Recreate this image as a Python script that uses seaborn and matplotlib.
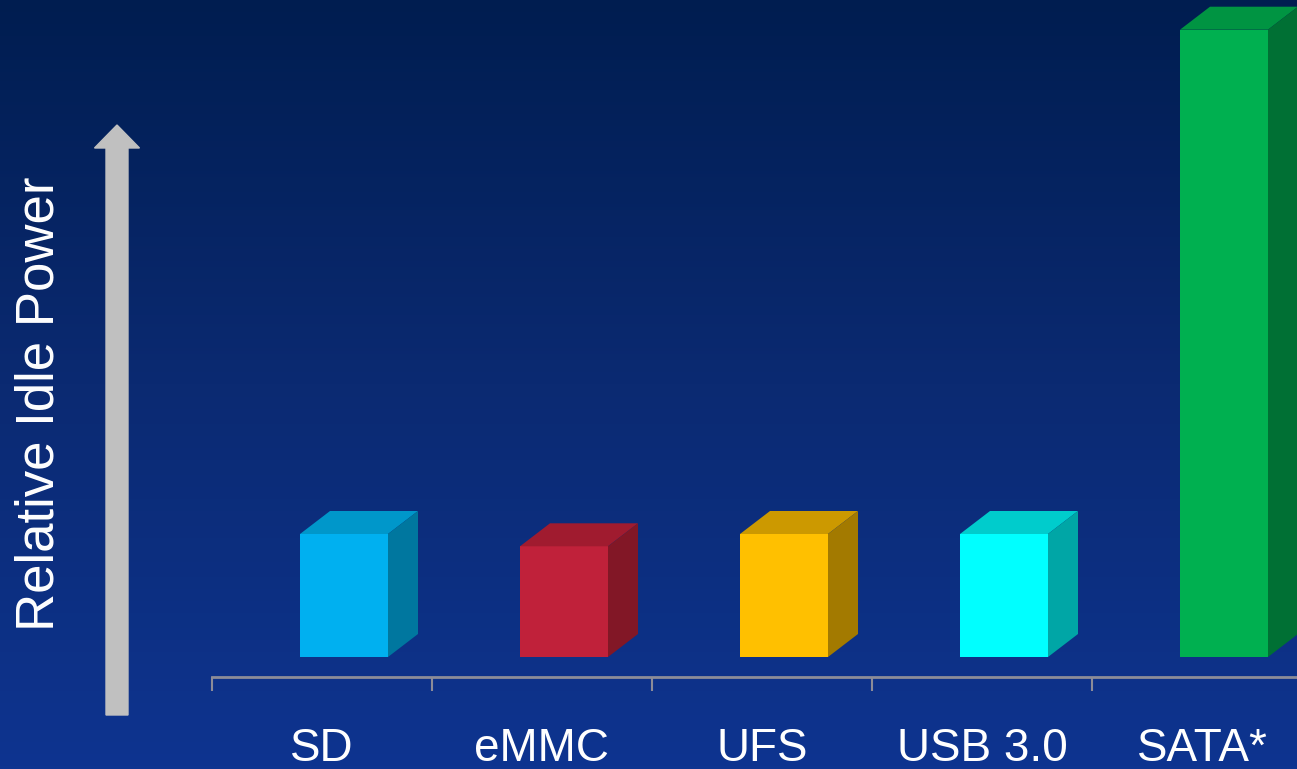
import numpy as np
import pandas as pd
import matplotlib
matplotlib.use("Agg")
import matplotlib.pyplot as plt
from matplotlib.patches import Polygon, FancyArrow
from matplotlib.colors import LinearSegmentedColormap
import seaborn as sns

# Data
categories = ["SD", "eMMC", "UFS", "USB 3.0", "SATA*"]
idle_power = [1.0, 0.9, 1.0, 1.0, 5.1]
front_colors = ["#00B0F0", "#C0213A", "#FFC000", "#00FFFF", "#00B050"]
top_colors = ["#0097CA", "#A01B2F", "#CC9900", "#00CCCC", "#009442"]
side_colors = ["#00779F", "#821726", "#A37A00", "#00A6A6", "#007034"]

df = pd.DataFrame({"interface": categories, "power": idle_power})

sns.set_theme(style="white")
plt.rcParams["font.family"] = ["Liberation Sans", "DejaVu Sans"]

W, H = 1297, 769
fig = plt.figure(figsize=(W / 100, H / 100), dpi=100)

# gradient background
bg = fig.add_axes([0, 0, 1, 1], zorder=0)
grad = np.linspace(0, 1, 256).reshape(-1, 1)
cmap = LinearSegmentedColormap.from_list("bg", ["#001D50", "#0B2A72", "#0E3490"])
bg.imshow(grad, aspect="auto", cmap=cmap, extent=[0, 1, 0, 1], origin="upper")
bg.axis("off")

# main axes
px_unit = 123.0
ax = fig.add_axes([212 / W, 92 / H, 1100 / W, 677 / H], zorder=1)
ax.patch.set_alpha(0)
sns.barplot(data=df, x="interface", y="power", hue="interface", palette=front_colors,
            legend=False, width=0.4, saturation=1, linewidth=0, ax=ax)
ax.set_xlim(-0.5, 4.5)
ax.set_ylim(-20 / px_unit, 657 / px_unit)

# 3D faces
dx = 30 / 220
dy = 23 / px_unit
shift = 0.1
for bar, tc, sc in zip(ax.patches, top_colors, side_colors):
    bar.set_x(bar.get_x() + shift)
    x0 = bar.get_x()
    x1 = x0 + bar.get_width()
    h = bar.get_height()
    ax.add_patch(Polygon([(x0, h), (x1, h), (x1 + dx, h + dy), (x0 + dx, h + dy)],
                         closed=True, facecolor=tc, edgecolor="none", clip_on=False))
    ax.add_patch(Polygon([(x1, 0), (x1, h), (x1 + dx, h + dy), (x1 + dx, dy)],
                         closed=True, facecolor=sc, edgecolor="none", clip_on=False))

# axis styling
for s in ["top", "right", "left"]:
    ax.spines[s].set_visible(False)
ax.spines["bottom"].set_color("#8C8C98")
ax.spines["bottom"].set_linewidth(2)
ax.set_yticks([])
ax.set_xlabel("")
ax.set_ylabel("")
ax.set_xticks(range(len(categories)))
ax.set_xticklabels(categories)
ax.set_xticks(np.arange(-0.5, 4.0, 1.0), minor=True)
ax.tick_params(axis="x", which="major", length=0, pad=36, labelsize=33, labelcolor="white")
ax.tick_params(axis="x", which="minor", bottom=True, length=10, width=1.5,
               color="#8C8C98", direction="out")

# arrow on the left
arrow = FancyArrow(1.17, 0.54, 0, 5.90, width=0.22, head_width=0.45, head_length=0.23,
                   length_includes_head=True, color="#C0C0C0", transform=fig.dpi_scale_trans,
                   zorder=2)
fig.patches.append(arrow)

fig.text(40 / W, 1 - 404 / H, "Relative Idle Power", rotation=90, ha="center", va="center",
         color="white", fontsize=38)

fig.savefig("out.png", dpi=100)
